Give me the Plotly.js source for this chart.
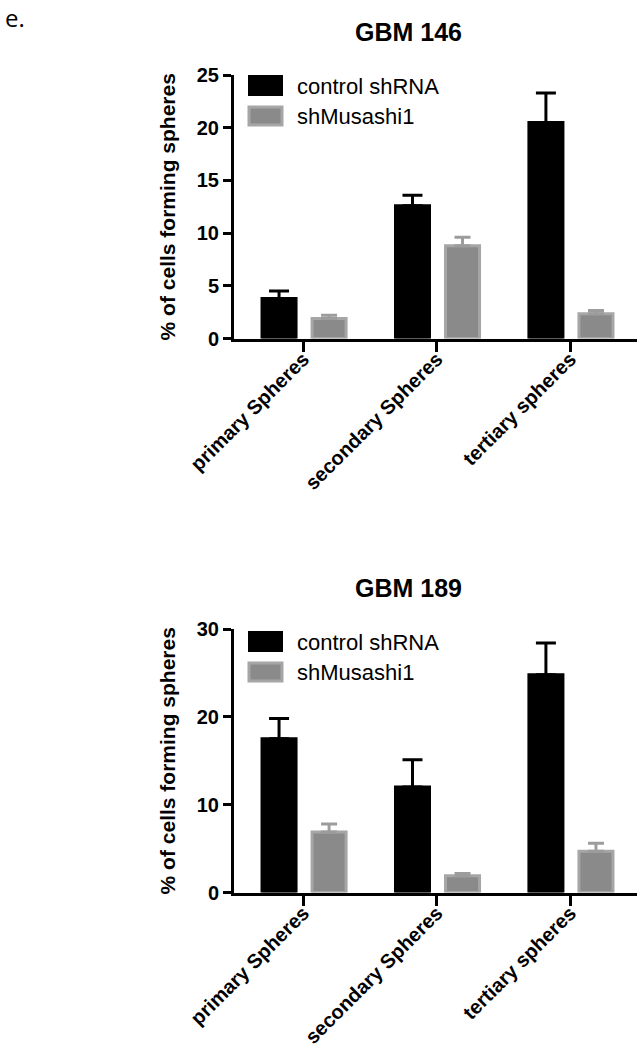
<!DOCTYPE html>
<html>
<head>
<meta charset="utf-8">
<script src="https://cdn.plot.ly/plotly-3.0.1.min.js"></script>
<style>
  body { margin: 0; background: #fff; }
  #plot { width: 637px; height: 1050px; }
</style>
</head>
<body>
<div id="plot"></div>
<script>
// Categories and series names
let categories = ["primary Spheres", "secondary Spheres", "tertiary spheres"]
let seriesNames = ["control shRNA", "shMusashi1"]

// GBM 146 values (mean and upper error)
let gbm146Control = [3.8, 12.6, 20.5]
let gbm146ControlErr = [0.7, 1.0, 2.8]
let gbm146Sh = [1.9, 8.8, 2.35]
let gbm146ShErr = [0.3, 0.8, 0.3]

// GBM 189 values (mean and upper error)
let gbm189Control = [17.5, 12.0, 24.8]
let gbm189ControlErr = [2.3, 3.1, 3.6]
let gbm189Sh = [6.9, 1.9, 4.7]
let gbm189ShErr = [0.9, 0.25, 0.9]

let font = "Liberation Sans, Arial, Helvetica, sans-serif"
let black = "#000000"
let grayFill = "#8a8a8a"
let grayLine = "#a6a6a6"

function makeBar(y, err, name, xa, ya, isControl) {
  return {
    x: categories,
    y: y,
    name: name,
    type: "bar",
    xaxis: xa,
    yaxis: ya,
    width: 0.255,
    offset: isControl ? -0.31 : 0.065,
    marker: {
      color: isControl ? black : grayFill,
      line: {color: isControl ? black : grayLine, width: 3}
    },
    error_y: {
      type: "data",
      symmetric: false,
      array: err,
      arrayminus: err.map(() => 0),
      color: isControl ? black : "#9c9c9c",
      thickness: 3,
      width: isControl ? 10 : 8
    },
    showlegend: false,
    hoverinfo: "x+y"
  }
}

let data = [
  makeBar(gbm146Control, gbm146ControlErr, seriesNames[0], "x", "y", true),
  makeBar(gbm146Sh, gbm146ShErr, seriesNames[1], "x", "y", false),
  makeBar(gbm189Control, gbm189ControlErr, seriesNames[0], "x2", "y2", true),
  makeBar(gbm189Sh, gbm189ShErr, seriesNames[1], "x2", "y2", false)
]

let W = 637, H = 1050
let px = v => v / W
let py = v => 1 - v / H

function xAxis(anchor) {
  return {
    domain: [px(234), 1],
    range: [-0.52, 2.5],
    anchor: anchor,
    showline: true,
    linecolor: black,
    linewidth: 3,
    ticks: "outside",
    ticklen: 10,
    tickwidth: 3,
    tickcolor: black,
    tickangle: -45,
    ticklabelstandoff: -12,
    tickfont: {family: font, size: 20, color: black, weight: "bold"},
    showgrid: false,
    zeroline: false,
    fixedrange: true
  }
}

function yAxis(anchor, top, bottom, max, dtick) {
  return {
    domain: [py(bottom), py(top)],
    range: [0, max],
    anchor: anchor,
    dtick: dtick,
    showline: true,
    linecolor: black,
    linewidth: 3,
    ticks: "outside",
    ticklen: 8,
    tickwidth: 3,
    tickcolor: black,
    tickfont: {family: font, size: 20, color: black, weight: "bold"},
    showgrid: false,
    zeroline: false,
    fixedrange: true,
    title: {
      text: "% of cells forming spheres",
      font: {family: font, size: 21, color: black, weight: "bold"},
      standoff: 16
    }
  }
}

// Legend swatches and labels drawn beside each panel
function legendItems(top) {
  let shapes = [
    {type: "rect", xref: "paper", yref: "paper",
     x0: px(249), x1: px(282), y0: py(top + 20), y1: py(top + 1),
     fillcolor: black, line: {color: black, width: 2}},
    {type: "rect", xref: "paper", yref: "paper",
     x0: px(249), x1: px(282), y0: py(top + 50), y1: py(top + 32),
     fillcolor: grayFill, line: {color: grayLine, width: 3}}
  ]
  let notes = seriesNames.map((n, i) => ({
    text: n, xref: "paper", yref: "paper",
    x: px(295), y: py(top + 11 + i * 30.5),
    xanchor: "left", yanchor: "middle", showarrow: false,
    font: {family: font, size: 22, color: black}
  }))
  return {shapes, notes}
}

let leg1 = legendItems(75)
let leg2 = legendItems(631)

let annotations = [
  {text: "e.", xref: "paper", yref: "paper", x: px(3), y: py(17),
   xanchor: "left", yanchor: "middle", showarrow: false,
   font: {family: "Open Sans, DejaVu Sans, sans-serif", size: 24, color: black}},
  {text: "GBM 146", xref: "paper", yref: "paper", x: px(408), y: py(32),
   xanchor: "center", yanchor: "middle", showarrow: false,
   font: {family: font, size: 25, color: black, weight: "bold"}},
  {text: "GBM 189", xref: "paper", yref: "paper", x: px(408), y: py(588),
   xanchor: "center", yanchor: "middle", showarrow: false,
   font: {family: font, size: 25, color: black, weight: "bold"}}
].concat(leg1.notes, leg2.notes)

let layout = {
  width: W,
  height: H,
  margin: {l: 0, r: 0, t: 0, b: 0},
  barmode: "overlay",
  paper_bgcolor: "#ffffff",
  plot_bgcolor: "#ffffff",
  showlegend: false,
  xaxis: xAxis("y"),
  yaxis: yAxis("x", 75, 338.5, 25, 5),
  xaxis2: xAxis("y2"),
  yaxis2: yAxis("x2", 629, 892.5, 30, 10),
  shapes: leg1.shapes.concat(leg2.shapes),
  annotations: annotations
}

Plotly.newPlot("plot", data, layout, {displayModeBar: false, staticPlot: true})
</script>
</body>
</html>
